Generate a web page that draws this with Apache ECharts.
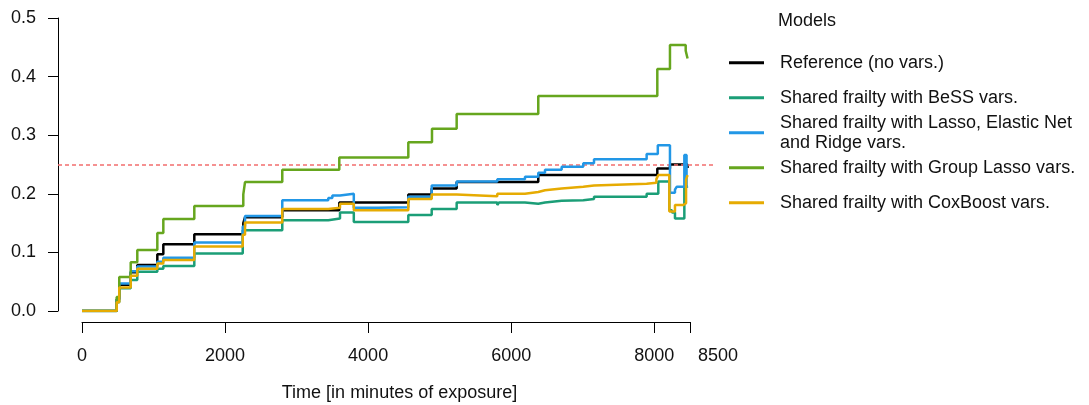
<!DOCTYPE html>
<html><head><meta charset="utf-8">
<script src="https://cdn.jsdelivr.net/npm/echarts@6/dist/echarts.min.js"></script>
<style>html,body{margin:0;padding:0;background:#fff}#c{width:1089px;height:405px}</style>
</head><body><div id="c"></div>
<script>
// ---- data (time in minutes, cumulative value) ----
const seriesNames = [
  'Reference (no vars.)',
  'Shared frailty with BeSS vars.',
  'Shared frailty with Lasso, Elastic Net and Ridge vars.',
  'Shared frailty with Group Lasso vars.',
  'Shared frailty with CoxBoost vars.'
];
const legendLabels = [
  'Reference (no vars.)',
  'Shared frailty with BeSS vars.',
  'Shared frailty with Lasso, Elastic Net\nand Ridge vars.',
  'Shared frailty with Group Lasso vars.',
  'Shared frailty with CoxBoost vars.'
];
const seriesColors = ['#000000', '#1B9E77', '#2297E6', '#66A61E', '#E6AB02'];

const refSeries = [[0,0],[485,0.02],[521,0.045],[681,0.066],[773,0.0785],[1053,0.097],[1137,0.114],[1570,0.131],[2255,0.15],[2279,0.160],[2800,0.172],[3597,0.185],[4562,0.199],[4889,0.209],[5238,0.220],[6379,0.232],[8043,0.243],[8220,0.250],[8466,0.244],[8473,0.244]];
const bessSeries = [[0,0],[485,0.015],[521,0.039],[681,0.053],[773,0.067],[1053,0.072],[1137,0.077],[1570,0.098],[2247,0.138],[2800,0.155],[3443,0.158],[3607,0.168],[3800,0.152],[4562,0.164],[4889,0.174],[5238,0.185],[5806,0.181],[5830,0.185],[6193,0.183],[6379,0.185],[6473,0.188],[6706,0.189],[7008,0.191],[7158,0.195],[7894,0.200],[8057,0.221],[8211,0.172],[8248,0.168],[8290,0.158],[8421,0.212],[8473,0.212]];
const lassoSeries = [[0,0],[485,0.02],[521,0.047],[681,0.068],[773,0.076],[1053,0.084],[1137,0.091],[1570,0.117],[2247,0.144],[2279,0.162],[2800,0.189],[3443,0.193],[3500,0.197],[3607,0.200],[3800,0.176],[4142,0.177],[4562,0.195],[4889,0.214],[5238,0.221],[5806,0.225],[6193,0.229],[6379,0.236],[6473,0.241],[6706,0.246],[7008,0.252],[7158,0.259],[7894,0.268],[8050,0.283],[8220,0.202],[8290,0.207],[8314,0.212],[8421,0.266],[8452,0.212],[8473,0.212]];
const groupLassoSeries = [[0,0],[485,0.024],[521,0.058],[681,0.083],[773,0.104],[1053,0.133],[1137,0.157],[1570,0.179],[2255,0.199],[2279,0.220],[2800,0.241],[3597,0.262],[4562,0.288],[4893,0.311],[5238,0.336],[6379,0.367],[8043,0.413],[8220,0.454],[8440,0.444],[8466,0.431],[8473,0.431]];
const coxBoostSeries = [[0,0],[485,0.015],[521,0.040],[681,0.060],[773,0.072],[1053,0.081],[1137,0.087],[1570,0.110],[2247,0.130],[2279,0.151],[2800,0.174],[3443,0.176],[3607,0.183],[3800,0.172],[4562,0.191],[4889,0.199],[5238,0.196],[5806,0.200],[6193,0.203],[6379,0.206],[6473,0.209],[6706,0.212],[7008,0.214],[7158,0.217],[7894,0.219],[8030,0.225],[8057,0.232],[8211,0.170],[8290,0.181],[8407,0.184],[8445,0.224],[8466,0.232],[8473,0.232]];
const allSeries = [refSeries, bessSeries, lassoSeries, groupLassoSeries, coxBoostSeries];

const xTicks = [0, 2000, 4000, 6000, 8000, 8500];
const yTicks = [0, 0.1, 0.2, 0.3, 0.4, 0.5];
const referenceLevel = 0.25;
const xAxisTitle = 'Time [in minutes of exposure]';
const legendTitle = 'Models';

// ---- layout ----
const FONT = '"Liberation Sans", Arial, Helvetica, sans-serif';
const TXT = '#111';
const legendCenters = [62.7, 97.7, 132.7, 167.7, 202.7];

const chart = echarts.init(document.getElementById('c'), null, {renderer: 'canvas'});

const series = allSeries.map((d, i) => ({
  name: seriesNames[i],
  type: 'line',
  xAxisIndex: 0, yAxisIndex: 0,
  step: 'end',
  data: d,
  showSymbol: false,
  symbol: 'none',
  color: seriesColors[i],
  itemStyle: {color: seriesColors[i]},
  lineStyle: {width: 2.5, color: seriesColors[i]},
  silent: true,
  animation: false,
  z: 3 + i,
  markLine: i === 0 ? {
    silent: true, symbol: ['none', 'none'], label: {show: false},
    lineStyle: {type: [4, 3], color: '#F26D6D', width: 1.5},
    data: [{yAxis: referenceLevel}],
    animation: false
  } : undefined
}));

const legends = seriesNames.map((n, i) => {
  const lines = legendLabels[i].split('\n').length;
  return {
    data: [n],
    left: 729,
    top: legendCenters[i] - 10 * lines,
    orient: 'vertical',
    padding: 0,
    itemWidth: 35,
    itemHeight: 3,
    icon: 'rect',
    selectedMode: false,
    formatter: () => legendLabels[i],
    itemStyle: {borderWidth: 0},
    textStyle: {fontSize: 18, lineHeight: 20, color: TXT, fontFamily: FONT, padding: [0, 0, 0, 11]}
  };
});

chart.setOption({
  animation: false,
  backgroundColor: '#fff',
  title: {
    text: legendTitle, left: 778, top: 12, padding: 0,
    textStyle: {fontSize: 18, fontWeight: 'normal', fontFamily: FONT, color: TXT}
  },
  legend: legends,
  grid: [
    {left: 58, right: 374, top: 18, bottom: 94},
    {left: 82, right: 399, top: 300, bottom: 83}
  ],
  xAxis: [
    {gridIndex: 0, type: 'value', min: -335.5, max: 8849.6, show: false},
    {
      gridIndex: 1, type: 'value', min: 0, max: 8500, position: 'bottom',
      axisLine: {show: true, onZero: false, lineStyle: {color: '#000', width: 1}},
      axisTick: {show: true, length: 11, customValues: xTicks, lineStyle: {color: '#000', width: 1}},
      splitLine: {show: false},
      axisLabel: {
        customValues: xTicks, margin: 25, fontSize: 18, fontFamily: FONT, color: TXT,
        showMinLabel: true, showMaxLabel: true,
        formatter: v => v === xTicks[xTicks.length - 1] ? '{s|' + v + '}' : String(v),
        rich: {s: {padding: [0, 0, 0, 56], fontSize: 18, fontFamily: FONT, color: TXT}}
      },
      name: xAxisTitle, nameLocation: 'middle', nameGap: 62,
      nameTextStyle: {fontSize: 18, fontFamily: FONT, color: TXT, padding: [0, 0, 0, 27]}
    }
  ],
  yAxis: [
    {
      gridIndex: 0, type: 'value', min: 0, max: 0.5, interval: 0.1,
      axisLine: {show: true, onZero: false, lineStyle: {color: '#000', width: 1}},
      axisTick: {show: true, length: 10, lineStyle: {color: '#000', width: 1}},
      splitLine: {show: false},
      axisLabel: {
        margin: 22, fontSize: 18, fontFamily: FONT, color: TXT,
        formatter: v => v.toFixed(1)
      }
    },
    {gridIndex: 1, type: 'value', min: 0, max: 1, show: false}
  ],
  series: series
});
</script>
</body></html>
